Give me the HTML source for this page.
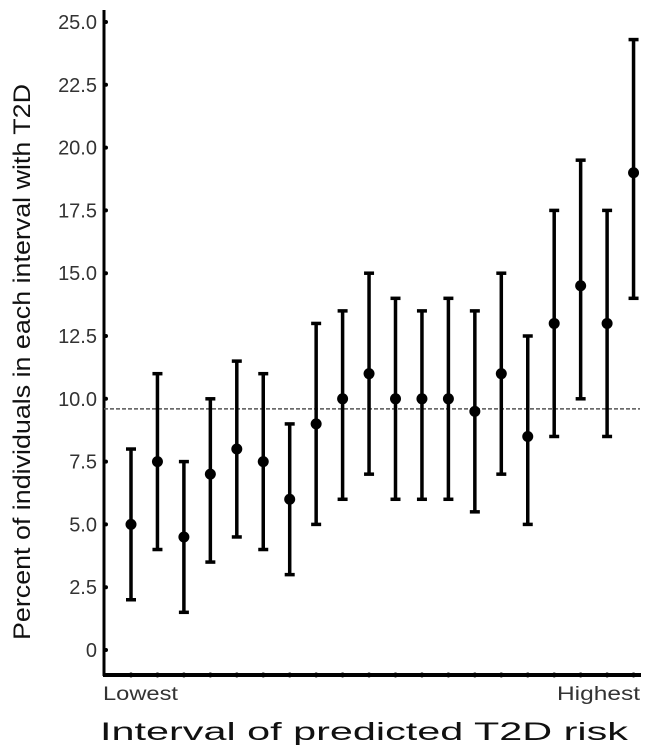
<!DOCTYPE html>
<html><head><meta charset="utf-8"><style>
body{margin:0;background:#fff;}
svg{display:block;font-family:"Liberation Sans",Arial,sans-serif;}
</style></head><body>
<svg id="chart" width="651" height="753">
<g id="axes"></g>
<g id="marks"></g>
<text x="103" y="700" font-size="19" fill="#333" textLength="75" lengthAdjust="spacingAndGlyphs">Lowest</text>
<text x="557" y="700" font-size="19" fill="#333" textLength="83" lengthAdjust="spacingAndGlyphs">Highest</text>
<text x="100" y="740" font-size="25" fill="#111" textLength="528" lengthAdjust="spacingAndGlyphs">Interval of predicted T2D risk</text>
<text transform="translate(30,362) rotate(-90)" font-size="24" fill="#111" text-anchor="middle" textLength="556" lengthAdjust="spacingAndGlyphs">Percent of individuals in each interval with T2D</text>
</svg>
<script>
const yTicks=[0,2.5,5,7.5,10,12.5,15,17.5,20,22.5,25];
const yTickLabels=["0","2.5","5.0","7.5","10.0","12.5","15.0","17.5","20.0","22.5","25.0"];
const means=[5,7.5,4.5,7,8,7.5,6,9,10,11,10,10,10,9.5,11,8.5,13,14.5,13,19];
const lows=[2,4,1.5,3.5,4.5,4,3,5,6,7,6,6,6,5.5,7,5,8.5,10,8.5,14];
const highs=[8,11,7.5,10,11.5,11,9,13,13.5,15,14,13.5,14,13.5,15,12.5,17.5,19.5,17.5,24.3];
const refLine=9.6;
const NS="http://www.w3.org/2000/svg";
const y=v=>650-v*25.12;
const x=i=>131+i*26.45;
function mk(tag,attrs,parent){const e=document.createElementNS(NS,tag);for(const k in attrs)e.setAttribute(k,attrs[k]);parent.appendChild(e);return e;}
const ax=document.getElementById('axes'),mg=document.getElementById('marks');
let e=mk('line',{x1:104,y1:10,x2:104,y2:676,stroke:'#000','stroke-width':3},ax);


e=mk('line',{x1:103,y1:675,x2:641,y2:675,stroke:'#000','stroke-width':4},ax);


yTicks.forEach((t,i)=>{
  let d=mk('circle',{cx:106,cy:y(t),r:2,fill:'#000'},ax);
  
  
  let tx=mk('text',{x:97,y:y(t)+7,'font-size':20,fill:'#333','text-anchor':'end'},ax);
  tx.textContent=yTickLabels[i];
  
  
});
means.forEach((m,i)=>{
  let d=mk('circle',{cx:x(i),cy:675,r:2.5,fill:'#000'},ax);
  
  
});
e=mk('line',{x1:104,y1:y(refLine),x2:640,y2:y(refLine),stroke:'#555','stroke-width':1.5,'stroke-dasharray':'4,2'},mg);


means.forEach((m,i)=>{
  const g=mk('g',{},mg);
  
  
  mk('line',{x1:x(i),y1:y(lows[i]),x2:x(i),y2:y(highs[i]),stroke:'#000','stroke-width':3.5},g);
  mk('line',{x1:x(i)-5,y1:y(lows[i]),x2:x(i)+5,y2:y(lows[i]),stroke:'#000','stroke-width':3.5},g);
  mk('line',{x1:x(i)-5,y1:y(highs[i]),x2:x(i)+5,y2:y(highs[i]),stroke:'#000','stroke-width':3.5},g);
  let c=mk('circle',{cx:x(i),cy:y(m),r:5.5,fill:'#000'},g);
  
  
});
</script>
</body></html>
